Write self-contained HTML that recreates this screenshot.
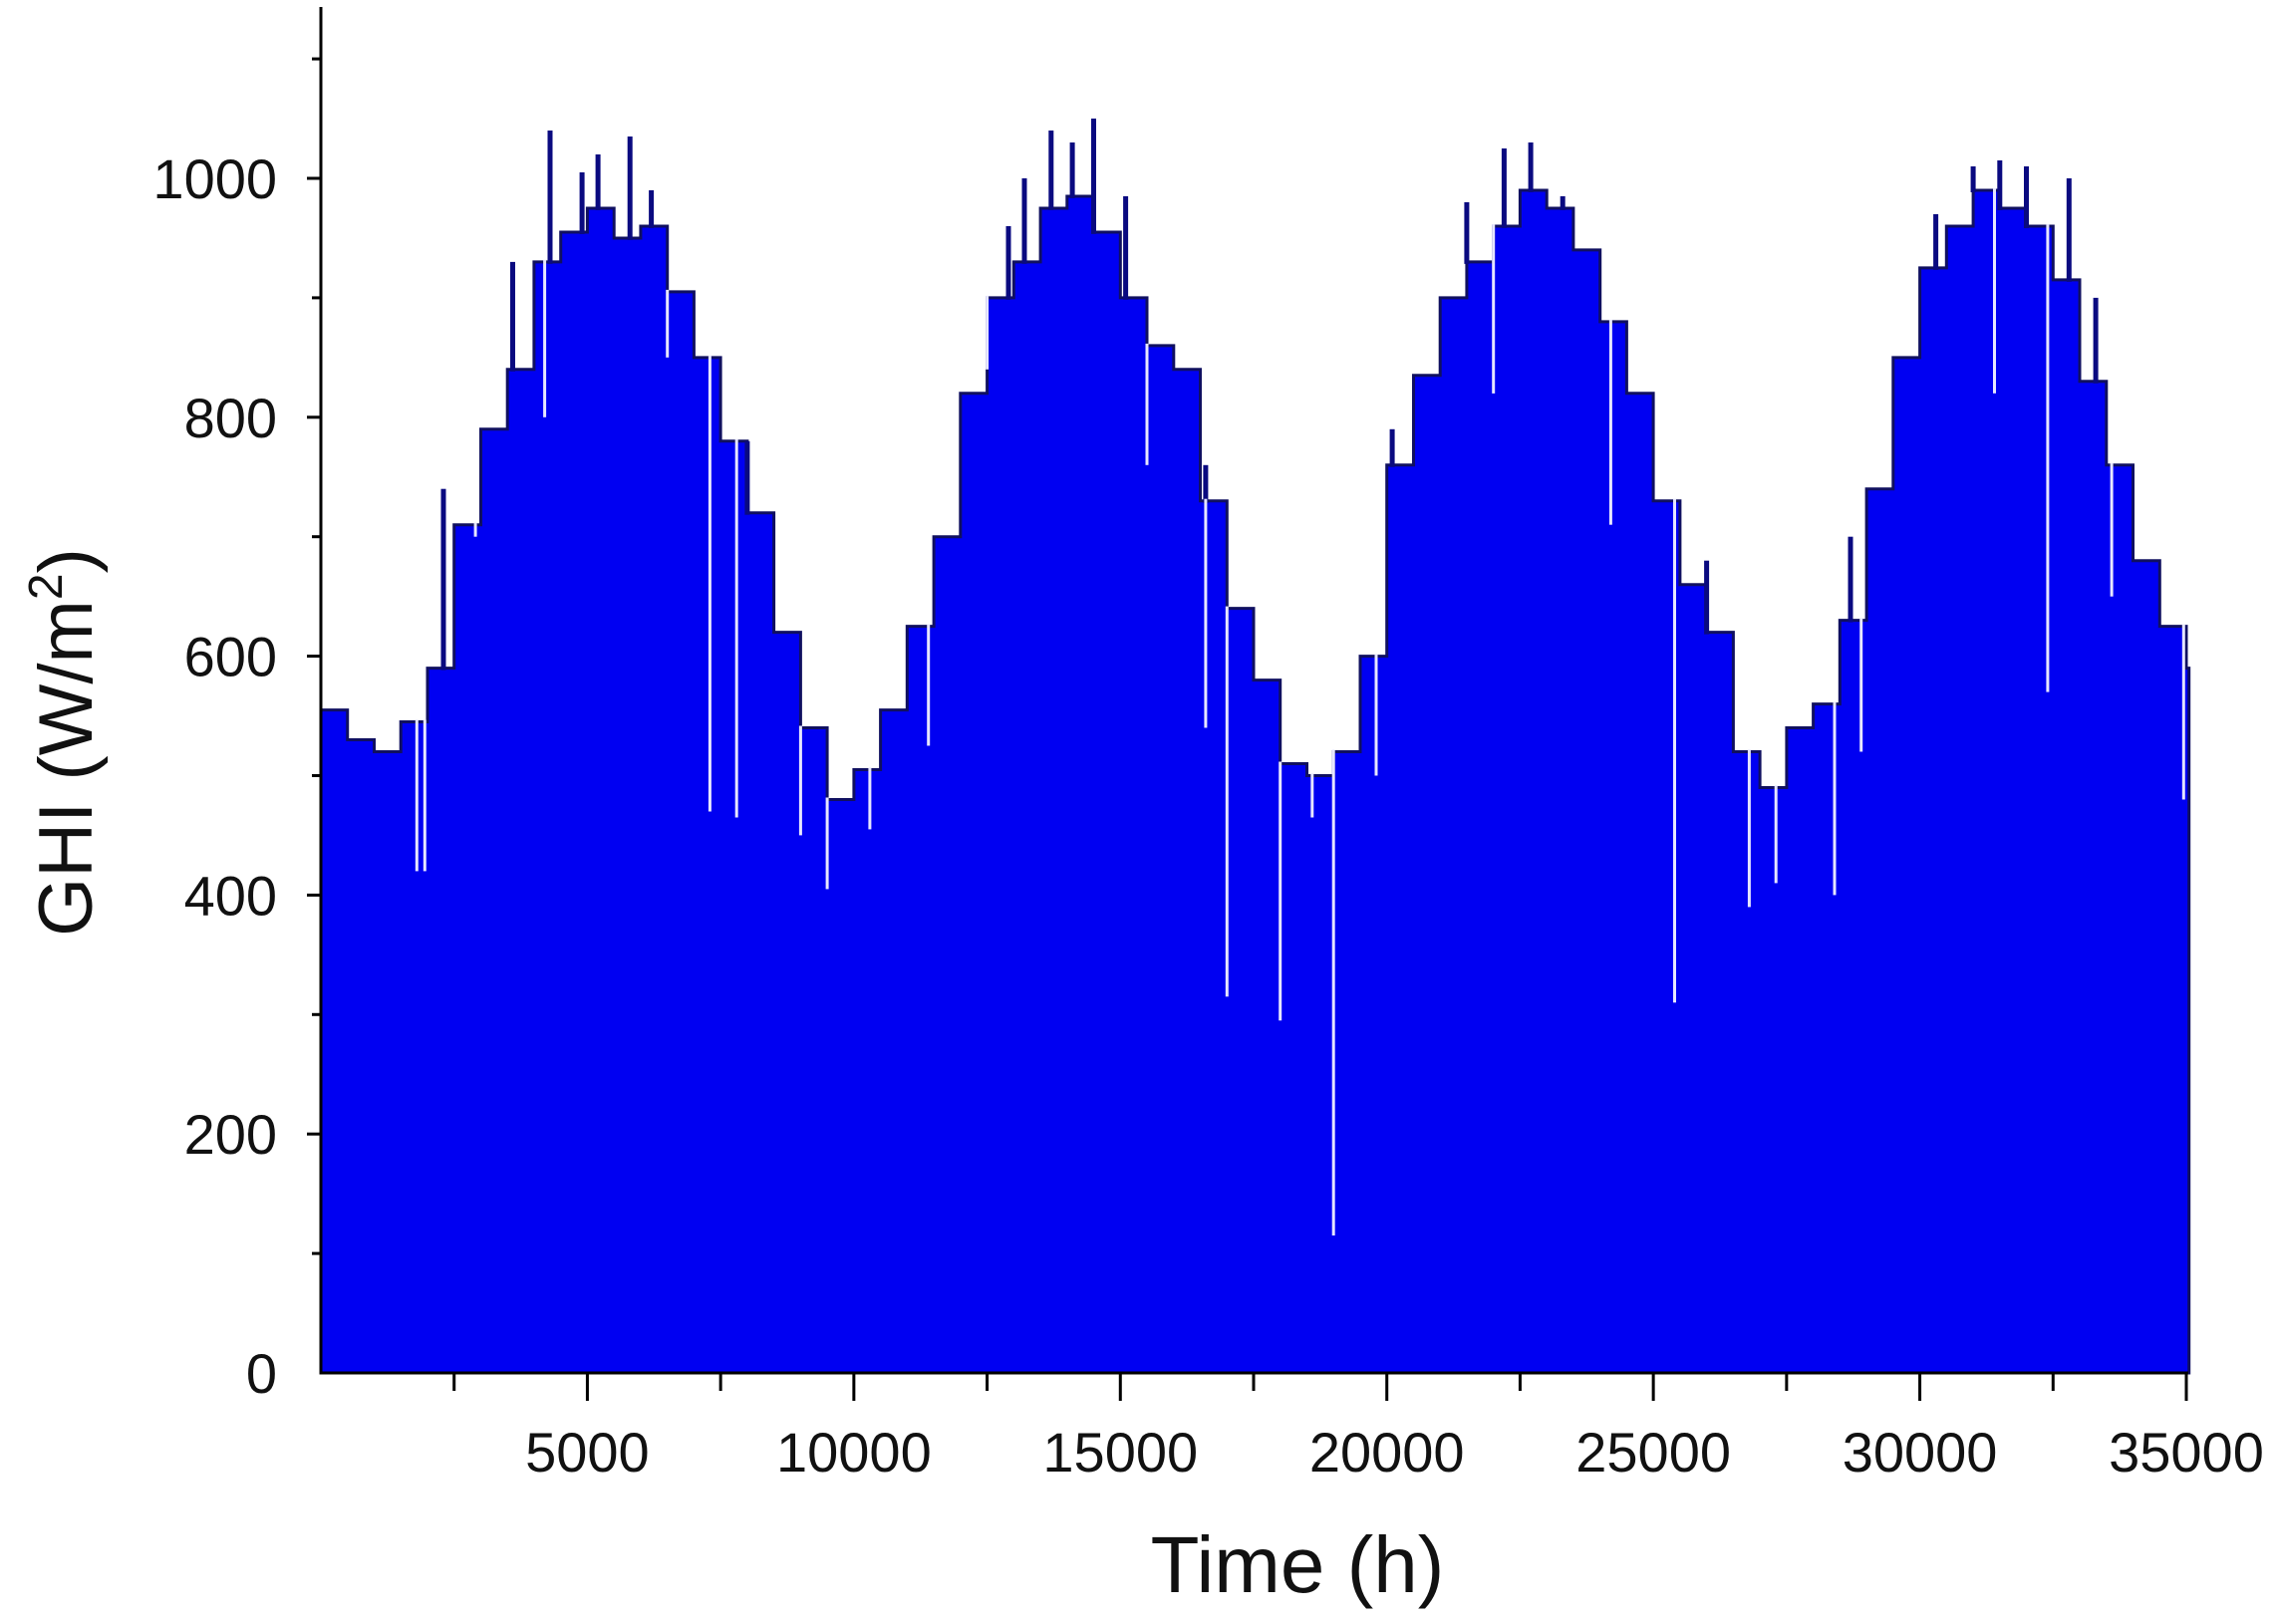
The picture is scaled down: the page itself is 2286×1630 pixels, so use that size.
<!DOCTYPE html>
<html><head><meta charset="utf-8"><style>
html,body{margin:0;padding:0;background:#fff}
svg{display:block}
text{font-family:"Liberation Sans",Arial,sans-serif;fill:#111}
</style></head><body>
<svg id="chart" width="2286" height="1630" viewBox="0 0 2286 1630" xmlns="http://www.w3.org/2000/svg">
<g id="plot"></g>
<g id="axes"></g>
<text x="1302" y="1598" font-size="80" text-anchor="middle">Time (h)</text>
<text transform="translate(92,745) rotate(-90)" font-size="76" text-anchor="middle">GHI (W/m<tspan font-size="48" dy="-30">2</tspan><tspan dy="30">)</tspan></text>
</svg>
<script>
const envTimes = [0,500,1000,1500,2000,2500,3000,3500,4000,4500,5000,5500,6000,6500,7000,7500,8000,8500,9000,9500,10000,10500,11000,11500,12000,12500,13000,13500,14000,14500,15000,15500,16000,16500,17000,17500,18000,18500,19000,19500,20000,20500,21000,21500,22000,22500,23000,23500,24000,24500,25000,25500,26000,26500,27000,27500,28000,28500,29000,29500,30000,30500,31000,31500,32000,32500,33000,33500,34000,34500,35000];
const envValues = [555,530,520,545,590,710,790,840,930,955,975,950,960,905,850,780,720,620,540,480,505,555,625,700,820,900,930,975,985,955,900,860,840,730,640,580,510,500,520,600,760,835,900,930,960,990,975,940,880,820,730,660,620,520,490,540,560,630,740,850,925,960,990,975,960,915,830,760,680,625,590];
const upTimes = [4300,4900,5200,5800,6200,3600,13200,13700,14100,14500,15100,12900,21500,22200,22700,23300,30300,31000,31500,32000,32800,33300,2300,8000,16600,20100,26000,28700];
const upValues = [1040,1005,1020,1035,990,930,1000,1040,1030,1050,985,960,980,1025,1030,985,970,1010,1015,1010,1000,900,740,780,760,790,680,700];
const dipTimes = [1800,1950,4200,7300,7800,9000,9500,10300,11400,12500,15500,16600,17000,18000,18600,19000,19800,22000,24200,25400,26800,27300,28400,28900,31400,32400,33600,34950,2900,6500];
const dipValues = [420,420,800,470,465,450,405,455,525,840,760,540,315,295,465,115,500,820,710,310,390,410,400,520,820,570,650,480,700,850];
const xTicks = [5000,10000,15000,20000,25000,30000,35000];
const yTicks = [0,200,400,600,800,1000];

const X0=322, X1=2194, Y0=1378, Y1000=179;
const xs = t => X0 + (t/35000)*(X1-X0);
const ys = v => Y0 - (v/1000)*(Y0-Y1000);
const NS='http://www.w3.org/2000/svg';
const plot=document.getElementById('plot'), axes=document.getElementById('axes');
function mk(tag, attrs, parent){const e=document.createElementNS(NS,tag);for(const k in attrs)e.setAttribute(k,attrs[k]);parent.appendChild(e);return e;}
function envAt(t){let i=Math.min(Math.floor(t/500),envValues.length-1);return envValues[i];}

let d='M'+X0+','+Y0;
for(let i=0;i<envTimes.length;i++){
  const xa=xs(envTimes[i]), xb=xs(Math.min(envTimes[i]+500,35050));
  const y=ys(envValues[i]);
  d+=' L'+xa.toFixed(1)+','+y.toFixed(1)+' L'+xb.toFixed(1)+','+y.toFixed(1);
}
d+=' L'+xs(35050).toFixed(1)+','+Y0+' Z';
const area=mk('path',{d:d,fill:'#0000f2',stroke:'#101060','stroke-width':3},plot);



for(let i=0;i<upTimes.length;i++){
  const x=xs(upTimes[i]), top=ys(upValues[i]), base=ys(envAt(upTimes[i]));
  const r=mk('rect',{x:(x-2.5).toFixed(1),y:top.toFixed(1),width:5,height:Math.max(0,base-top+2).toFixed(1),fill:'#0a0a80'},plot);
  
  
}
for(let i=0;i<dipTimes.length;i++){
  const x=xs(dipTimes[i]), top=ys(envAt(dipTimes[i]))-2, bot=ys(dipValues[i]);
  const r=mk('rect',{x:(x-1.5).toFixed(1),y:top.toFixed(1),width:3,height:Math.max(0,bot-top).toFixed(1),fill:'#e6e6ff'},plot);
  
  
}

const ya=mk('line',{x1:X0,y1:7,x2:X0,y2:Y0+1.5,stroke:'#000','stroke-width':3},axes);


const xa=mk('line',{x1:X0-1.5,y1:Y0,x2:X1+2,y2:Y0,stroke:'#000','stroke-width':3},axes);


for(let t=2500;t<=35000;t+=2500){
  const major=t%5000===0;
  mk('line',{x1:xs(t),y1:Y0,x2:xs(t),y2:Y0+(major?28:18),stroke:'#000','stroke-width':3},axes);
}
for(let v=100;v<=1100;v+=100){
  mk('line',{x1:X0,y1:ys(v),x2:X0-(v%200===0?14:9),y2:ys(v),stroke:'#000','stroke-width':3},axes);
}
xTicks.forEach(t=>{
  const tx=mk('text',{x:xs(t),y:1477,'font-size':56,'text-anchor':'middle'},axes);
  tx.textContent=t;
  
  
});
yTicks.forEach(v=>{
  const tx=mk('text',{x:278,y:ys(v)+20,'font-size':56,'text-anchor':'end'},axes);
  tx.textContent=v;
  
  
});
</script>
</body></html>
